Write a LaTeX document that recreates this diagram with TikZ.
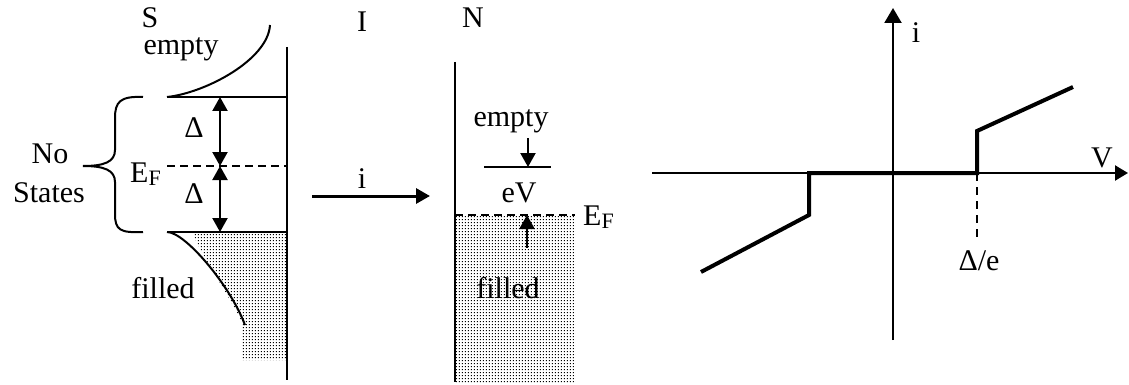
\documentclass[tikz,border=0pt]{standalone}
\usepackage{fontspec}
\setmainfont{Liberation Serif}
\usetikzlibrary{arrows.meta,patterns}
\pgfdeclarepatternformonly{densedots}{\pgfqpoint{-1pt}{-1pt}}{\pgfqpoint{2pt}{2pt}}{\pgfqpoint{3pt}{3pt}}{%
  \pgfpathrectangle{\pgfqpoint{0pt}{0pt}}{\pgfqpoint{1.5pt}{1.5pt}}\pgfusepath{fill}}
\begin{document}
\begin{tikzpicture}[x=1pt,y=-1pt,
  lbl/.style={inner sep=0pt,anchor=base,font=\fontsize{30}{36}\selectfont},
  thin/.style={line width=2pt},
  axis/.style={line width=2.2pt},
  curve/.style={line width=4pt,line join=miter},
  dashln/.style={line width=2pt,dash pattern=on 8pt off 5pt},
  tip/.style={-{Triangle[length=14pt,width=15pt]}},
  dtip/.style={{Triangle[length=14pt,width=15pt]}-{Triangle[length=14pt,width=15pt]}}]
\useasboundingbox (0,0) rectangle (1129,385);
\newcommand{\EFsub}{E\raisebox{-3pt}{\fontsize{22}{22}\selectfont F}}
% ---------- S side ----------
\coordinate (Stop) at (287,47);
\coordinate (Sbot) at (287,380);
\coordinate (gapT) at (167,97);
\coordinate (gapTr) at (287,97);
\coordinate (efL) at (167,166);
\coordinate (efR) at (287,166);
\coordinate (gapB) at (167,232);
\coordinate (gapBr) at (287,232);
\coordinate (dT) at (220,97);
\coordinate (dM) at (220,166);
\coordinate (dB) at (220,232);
\coordinate (dosTop) at (270,25);
\coordinate (dosBot) at (245,325);
% filled region
\fill[pattern=densedots] (193,234) .. controls (205,262) and (230,296) .. (242,323) -- (242,360) -- (286,360) -- (286,234) -- cycle;
\draw[axis] (Stop) -- (Sbot);
\draw[thin] (gapT) -- (gapTr);
\draw[thin] (gapB) -- (gapBr);
\draw[dashln] (efL) -- (efR);
\draw[thin] (gapT) .. controls (205,93) and (268,60) .. (dosTop);
\draw[thin] (gapB) .. controls (185,232) and (230,285) .. (dosBot);
\draw[axis,dtip] (dT) -- (dM);
\draw[axis,dtip] (dM) -- (dB);
% brace
\coordinate (brT) at (143,97);
\coordinate (brB) at (143,232);
\coordinate (brTip) at (83,166);
\draw[thin] (brT) .. controls (120,96) and (115,102) .. (115,118) -- (115,150)
  .. controls (115,162) and (104,166) .. (brTip)
  .. controls (104,166) and (115,170) .. (115,182) -- (115,214)
  .. controls (115,230) and (120,233) .. (brB);
\node[lbl] (Slab) at (150,28) {S};
\node[lbl] (Sempty) at (181,55) {empty};
\node[lbl] (No) at (50,163) {No};
\node[lbl] (States) at (49,202) {States};
\node[lbl,anchor=base west] (SEF) at (130,182) {\EFsub};
\node[lbl] (D1) at (194,138) {Δ};
\node[lbl] (D2) at (194,203) {Δ};
\node[lbl] (Sfilled) at (163,298) {filled};
% ---------- I ----------
\node[lbl] (Ilab) at (362,32) {I};
\coordinate (iA) at (312,196);
\coordinate (iB) at (430,196);
\draw[line width=3pt,tip] (iA) -- (iB);
\node[lbl] (ilab) at (362,188) {i};
% ---------- N side ----------
\coordinate (Ntop) at (455,62);
\coordinate (Nbot) at (455,382);
\fill[pattern=densedots] (456,216) rectangle (575,382);
\draw[axis] (Ntop) -- (Nbot);
\coordinate (NefL) at (455,215);
\coordinate (NefR) at (575,215);
\draw[dashln] (NefL) -- (NefR);
\coordinate (evL) at (484,167);
\coordinate (evR) at (551,167);
\draw[thin] (evL) -- (evR);
\coordinate (dnA) at (528,138);
\coordinate (dnB) at (528,167);
\draw[axis,tip] (dnA) -- (dnB);
\coordinate (upA) at (527,248);
\coordinate (upB) at (527,215);
\draw[axis,tip] (upA) -- (upB);
\node[lbl] (Nlab) at (473,28) {N};
\node[lbl] (Nempty) at (511,127) {empty};
\node[lbl] (eV) at (519,202) {eV};
\node[lbl,anchor=base west] (NEF) at (583,225) {\EFsub};
\node[lbl] (Nfilled) at (508,298) {filled};
% ---------- I-V plot ----------
\coordinate (Vl) at (652,173);
\coordinate (Vr) at (1128,173);
\coordinate (ib) at (893,340);
\coordinate (it) at (893,8);
\draw[axis,-{Triangle[length=13pt,width=15pt]}] (Vl) -- (Vr);
\draw[axis,-{Triangle[length=15pt,width=17pt]}] (ib) -- (it);
\coordinate (c1) at (701,272);
\coordinate (c2) at (809,215);
\coordinate (c3) at (809,173);
\coordinate (c4) at (977,173);
\coordinate (c5) at (977,131);
\coordinate (c6) at (1073,87);
\draw[curve] (c1) -- (c2) -- (c3) -- (c4) -- (c5) -- (c6);
\coordinate (dv) at (977,238);
\draw[line width=2pt,dash pattern=on 8pt off 6pt] (c4) -- (dv);
\node[lbl] (ilab2) at (916,43) {i};
\node[lbl] (Vlab) at (1102,167) {V};
\node[lbl] (De) at (979,270) {Δ/e};
\end{tikzpicture}
\end{document}
